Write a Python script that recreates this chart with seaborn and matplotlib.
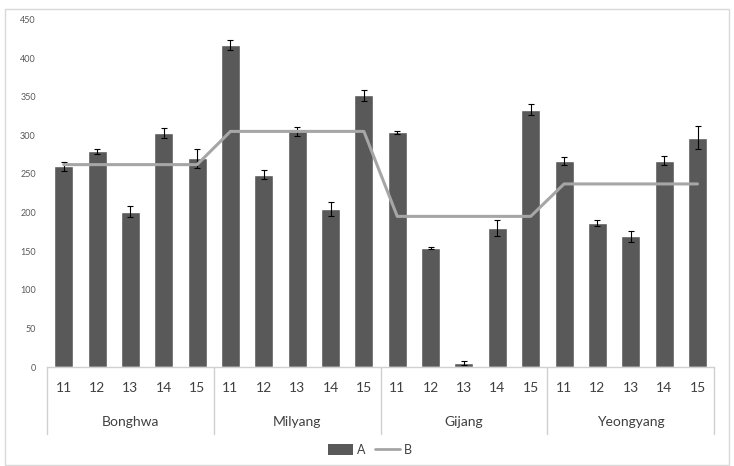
import pandas as pd
import matplotlib.pyplot as plt
import seaborn as sns
from matplotlib.patches import Patch, Rectangle
from matplotlib.lines import Line2D

# data
sites = ["Bonghwa", "Milyang", "Gijang", "Yeongyang"]
years = ["11", "12", "13", "14", "15"]
a_values = [260, 279, 201, 303, 270,
            417, 249, 305, 204, 352,
            304, 154, 5, 180, 333,
            267, 186, 169, 267, 297]
a_errors = [6, 3, 7, 6, 12,
            6, 6, 6, 9, 7,
            2, 1, 3, 10, 7,
            5, 4, 7, 6, 15]
b_values = [262, 305, 195, 237]  # one value per site

rows = []
for i, site in enumerate(sites):
    for j, yr in enumerate(years):
        rows.append({"key": f"{site}-{yr}", "site": site, "year": yr,
                     "A": a_values[i * 5 + j], "err": a_errors[i * 5 + j],
                     "B": b_values[i]})
df = pd.DataFrame(rows)

sns.set_style("white")
plt.rcParams["font.family"] = ["Lato", "DejaVu Sans"]

fig = plt.figure(figsize=(7.34, 4.66), dpi=100)
ax = fig.add_axes([0.064, 0.2124, 0.909, 0.746])

sns.barplot(data=df, x="key", y="A", color="#595959", width=0.57,
            saturation=1, errorbar=None, ax=ax)
ax.errorbar(range(len(df)), df["A"], yerr=df["err"], fmt="none",
            ecolor="black", elinewidth=0.8, capsize=2, capthick=0.8)
sns.lineplot(data=df, x="key", y="B", sort=False, color="#A6A6A6",
             linewidth=2.2, ax=ax)

ax.set_xlim(-0.5, len(df) - 0.5)
ax.set_ylim(0, 450)
ax.set_yticks(range(0, 451, 50))
ax.tick_params(axis="y", labelsize=6.5, labelcolor="#595959", length=0, pad=8)
ax.set_xticks(range(len(df)))
ax.set_xticklabels(df["year"])
ax.tick_params(axis="x", labelsize=10, labelcolor="#404040", length=0, pad=11)
ax.set_xlabel("")
ax.set_ylabel("")
for s in ["top", "right", "left"]:
    ax.spines[s].set_visible(False)
ax.spines["bottom"].set_color("#d0d0d0")
ax.spines["bottom"].set_linewidth(1)

# group separators and site labels below the axis
trans = ax.get_xaxis_transform()
for k in range(len(sites) + 1):
    xs = k * 5 - 0.5
    ax.plot([xs, xs], [0, -0.193], transform=trans, clip_on=False,
            color="#d0d0d0", lw=1)
for i, site in enumerate(sites):
    ax.text(i * 5 + 2, -0.158, site, transform=trans, ha="center",
            va="center", fontsize=10, color="#404040")

handles = [Patch(facecolor="#595959", edgecolor="none", label="A"),
           Line2D([], [], color="#A6A6A6", lw=2, label="B")]
fig.legend(handles=handles, loc="center", bbox_to_anchor=(0.504, 0.035),
           ncol=2, frameon=False, fontsize=9, handlelength=2.0,
           handleheight=0.9, handletextpad=0.3, columnspacing=0.8,
           labelcolor="#404040")

fig.patches.append(Rectangle((5 / 734, 0.002), 724 / 734, 1 - 9 / 466 - 0.002,
                             transform=fig.transFigure, fill=False,
                             edgecolor="#d9d9d9", lw=1))

fig.savefig("out.png", dpi=100)
